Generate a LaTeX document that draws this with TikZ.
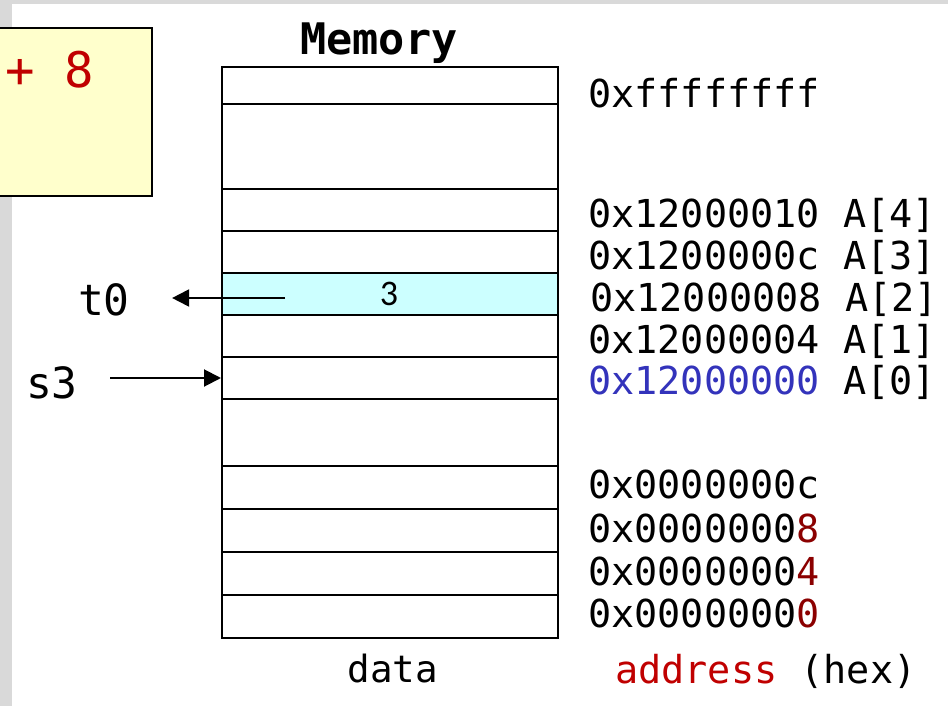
\documentclass[tikz,border=0pt]{standalone}
\usepackage{fontspec}
\setmonofont{DejaVu Sans Mono}
\setsansfont{Carlito}
\usepackage{xcolor}
\usetikzlibrary{arrows.meta}
\definecolor{hexred}{HTML}{C00000}
\definecolor{hexdark}{HTML}{8B0000}
\definecolor{hexblue}{HTML}{3333BB}
\definecolor{note}{HTML}{FFFFCC}
\definecolor{hilite}{HTML}{CCFFFF}
\definecolor{frame}{HTML}{D9D9D9}
\tikzstyle{cell}=[draw, line width=2pt, minimum width=336pt, inner sep=0pt]
\tikzstyle{addr}=[anchor=base west, inner sep=0pt, font=\ttfamily\fontsize{38.5}{40}\selectfont]
\tikzstyle{reg}=[anchor=base, inner sep=0pt, font=\ttfamily\fontsize{43}{45}\selectfont]
\tikzstyle{ptr}=[-{Triangle[length=17pt,width=17pt]}, line width=2pt]

\begin{document}
\begin{tikzpicture}[x=1pt,y=-1pt]
\useasboundingbox (0,0) rectangle (948,706);
\fill[frame] (0,0) rectangle (948,706);
\fill[white] (12,4) rectangle (948,706);
\draw[fill=note, line width=1.4pt] (-5,28) rectangle (152,196);
\node[anchor=base west, inner sep=0pt, text=hexred, font=\ttfamily\fontsize{49}{51}\selectfont] (offset) at (5,88) {+ 8};
\node[anchor=base, inner sep=0pt, font=\ttfamily\bfseries\fontsize{43.5}{45}\selectfont] (title) at (379,55) {Memory};
% memory cells, top to bottom
\foreach \n/\t/\b/\c in {top/67/104/white, gap1/104/189/white, a4/189/231/white, a3/231/273/white, a2/273/315/hilite, a1/315/357/white, a0/357/399/white, gap0/399/466/white, m3/466/509/white, m2/509/552/white, m1/552/595/white, m0/595/638/white} {
	\node[cell, fill=\c, minimum height={(\b-\t)*1pt}] (\n) at (390,{(\t+\b)/2}) {};
}
\node[inner sep=0pt, font=\sffamily\fontsize{36}{38}\selectfont] (val) at (389,294) {3};
% addresses
\node[addr] (lfff) at (588,108) {0xffffffff};
\node[addr] (l4) at (588,227) {0x12000010 A[4]};
\node[addr] (l3) at (588,269) {0x1200000c A[3]};
\node[addr] (l2) at (590,311) {0x12000008 A[2]};
\node[addr] (l1) at (588,353) {0x12000004 A[1]};
\node[addr] (l0) at (588,394) {{\color{hexblue}0x12000000} A[0]};
\node[addr] (lc) at (588,498) {0x0000000c};
\node[addr] (l8) at (588,542) {0x0000000{\color{hexdark}8}};
\node[addr] (l4b) at (588,585) {0x0000000{\color{hexdark}4}};
\node[addr] (l0b) at (588,627) {0x0000000{\color{hexdark}0}};
\node[anchor=base, inner sep=0pt, font=\ttfamily\fontsize{37.5}{39}\selectfont] (data) at (393,682) {data};
\node[addr] (unit) at (615,683) {{\color{hexred}address} (hex)};
% registers
\node[reg] (t0) at (104,315) {t0};
\node[reg] (s3) at (52,398) {s3};
\coordinate (t0src) at (285,298);
\draw[ptr, shorten >=42pt] (t0src) -- (t0src -| t0.east);
\draw[ptr, shorten <=32pt] (s3.east |- a0.west) -- (a0.west);
\end{tikzpicture}
\end{document}
